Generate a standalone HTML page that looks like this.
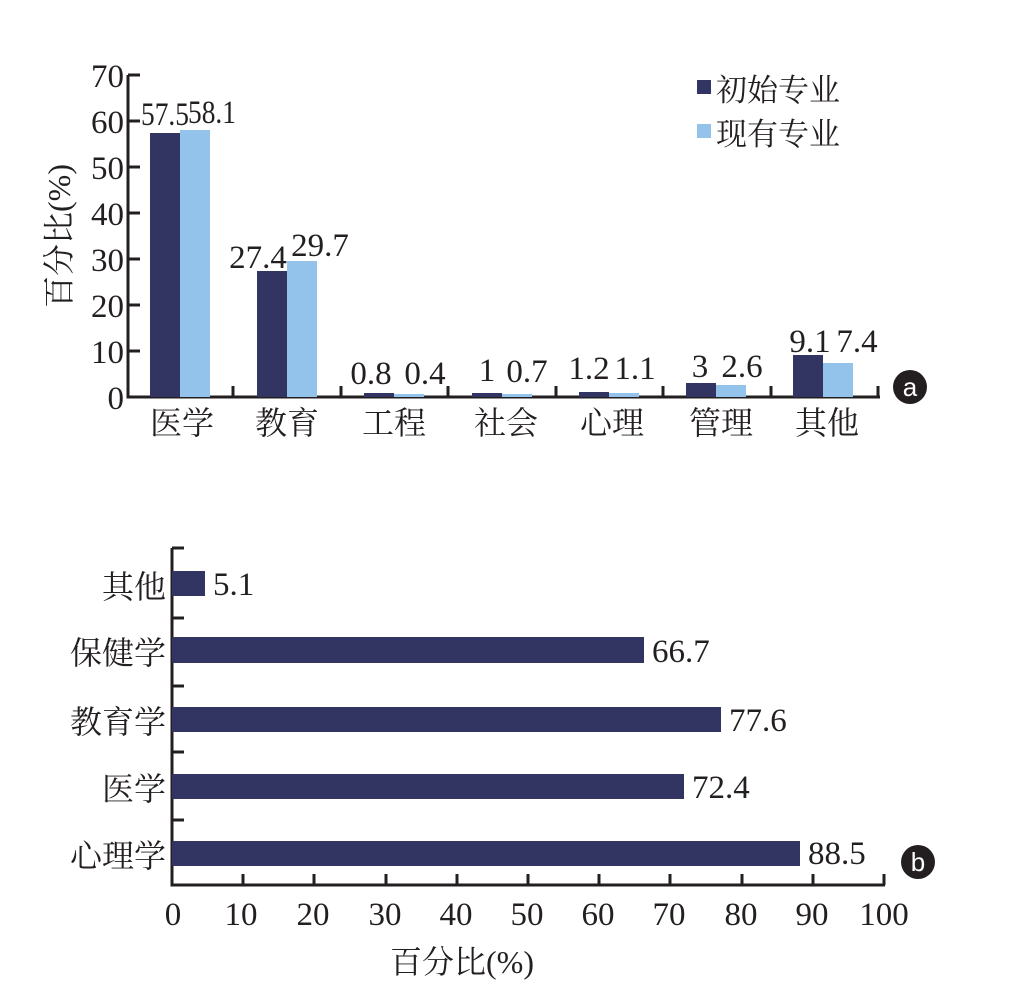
<!DOCTYPE html>
<html><head><meta charset="utf-8"><style>
body{margin:0;background:#fff}
text{font-family:"Liberation Serif","Noto Serif CJK SC",serif;fill:#231f20}
</style></head><body>
<svg width="1030" height="984" viewBox="0 0 1030 984" xmlns="http://www.w3.org/2000/svg">
<g stroke="#231f20" stroke-width="3" fill="none">
<path d="M128 75 V397 H880"/>
<path d="M128 75h12M128 121h12M128 167h12M128 213h12M128 259h12M128 305h12M128 351h12"/>
<path d="M233 397v-11M341 397v-11M448 397v-11M556 397v-11M663 397v-11M771 397v-11M878 397v-11"/>
</g>
<g font-size="33" text-anchor="end">
<text x="124" y="87">70</text><text x="124" y="133">60</text><text x="124" y="179">50</text><text x="124" y="225">40</text><text x="124" y="271">30</text><text x="124" y="317">20</text><text x="124" y="363">10</text><text x="124" y="409">0</text>
</g>
<text font-size="32" transform="translate(70 236) rotate(-90)" text-anchor="middle">百分比(%)</text>
<g fill="#323461">
<rect x="150" y="133" width="30" height="264"/><rect x="257" y="271" width="30" height="126"/>
<rect x="364" y="393" width="30" height="4"/><rect x="472" y="393" width="30" height="4"/>
<rect x="579" y="392" width="30" height="5"/><rect x="686" y="383" width="30" height="14"/>
<rect x="793" y="355" width="30" height="42"/>
</g>
<g fill="#93c3ea">
<rect x="180" y="130" width="30" height="267"/><rect x="287" y="261" width="30" height="136"/>
<rect x="394" y="394" width="30" height="3"/><rect x="502" y="394" width="30" height="3"/>
<rect x="609" y="393" width="30" height="4"/><rect x="716" y="385" width="30" height="12"/>
<rect x="823" y="363" width="30" height="34"/>
</g>
<g font-size="33" text-anchor="middle">
<text x="165" y="125" textLength="48" lengthAdjust="spacingAndGlyphs">57.5</text><text x="188" y="123" textLength="48" lengthAdjust="spacingAndGlyphs" text-anchor="start">58.1</text>
<text x="258" y="268">27.4</text><text x="320" y="256">29.7</text>
<text x="371" y="384">0.8</text><text x="425" y="384">0.4</text>
<text x="487" y="381">1</text><text x="527" y="382">0.7</text>
<text x="589" y="379">1.2</text><text x="635" y="379">1.1</text>
<text x="700" y="377">3</text><text x="742" y="377">2.6</text>
<text x="810" y="352">9.1</text><text x="857" y="352">7.4</text>
</g>
<g font-size="32" text-anchor="middle">
<text x="182" y="434">医学</text><text x="287" y="434">教育</text><text x="394" y="434">工程</text><text x="506" y="434">社会</text><text x="612" y="434">心理</text><text x="721" y="434">管理</text><text x="827" y="434">其他</text>
</g>
<rect x="697" y="80" width="14" height="14" fill="#323461"/>
<rect x="697" y="124" width="14" height="14" fill="#93c3ea"/>
<text x="716" y="101" font-size="31">初始专业</text>
<text x="716" y="145" font-size="31">现有专业</text>
<circle cx="910" cy="387" r="17" fill="#231f20"/>
<text x="910" y="396" font-size="26" text-anchor="middle" style="fill:#fff;font-family:'Liberation Sans',sans-serif">a</text>

<g stroke="#231f20" stroke-width="3" fill="none">
<path d="M172 548 V885 H885"/>
<path d="M172 548h12M172 618h12M172 686h12M172 752h12M172 820h12"/>
<path d="M243 885v-11M314 885v-11M386 885v-11M457 885v-11M528 885v-11M599 885v-11M670 885v-11M742 885v-11M813 885v-11M884 885v-11"/>
</g>
<g fill="#323461">
<rect x="172" y="571" width="33" height="25"/>
<rect x="172" y="637" width="472" height="26"/>
<rect x="172" y="707" width="549" height="25"/>
<rect x="172" y="774" width="512" height="25"/>
<rect x="172" y="841" width="628" height="25"/>
</g>
<g font-size="33">
<text x="213" y="595">5.1</text><text x="652" y="662">66.7</text><text x="729" y="731">77.6</text><text x="692" y="798">72.4</text><text x="808" y="864">88.5</text>
</g>
<g font-size="32" text-anchor="end">
<text x="166" y="598">其他</text><text x="166" y="664">保健学</text><text x="166" y="733">教育学</text><text x="166" y="800">医学</text><text x="166" y="867">心理学</text>
</g>
<g font-size="33" text-anchor="middle">
<text x="173" y="925">0</text><text x="241" y="925">10</text><text x="313" y="925">20</text><text x="385" y="925">30</text><text x="456" y="925">40</text><text x="527" y="925">50</text><text x="598" y="925">60</text><text x="669" y="925">70</text><text x="741" y="925">80</text><text x="812" y="925">90</text><text x="884" y="925">100</text>
</g>
<text x="462" y="973" font-size="32" text-anchor="middle">百分比(%)</text>
<circle cx="918" cy="862" r="17" fill="#231f20"/>
<text x="918" y="871" font-size="26" text-anchor="middle" style="fill:#fff;font-family:'Liberation Sans',sans-serif">b</text>
</svg>
</body></html>
